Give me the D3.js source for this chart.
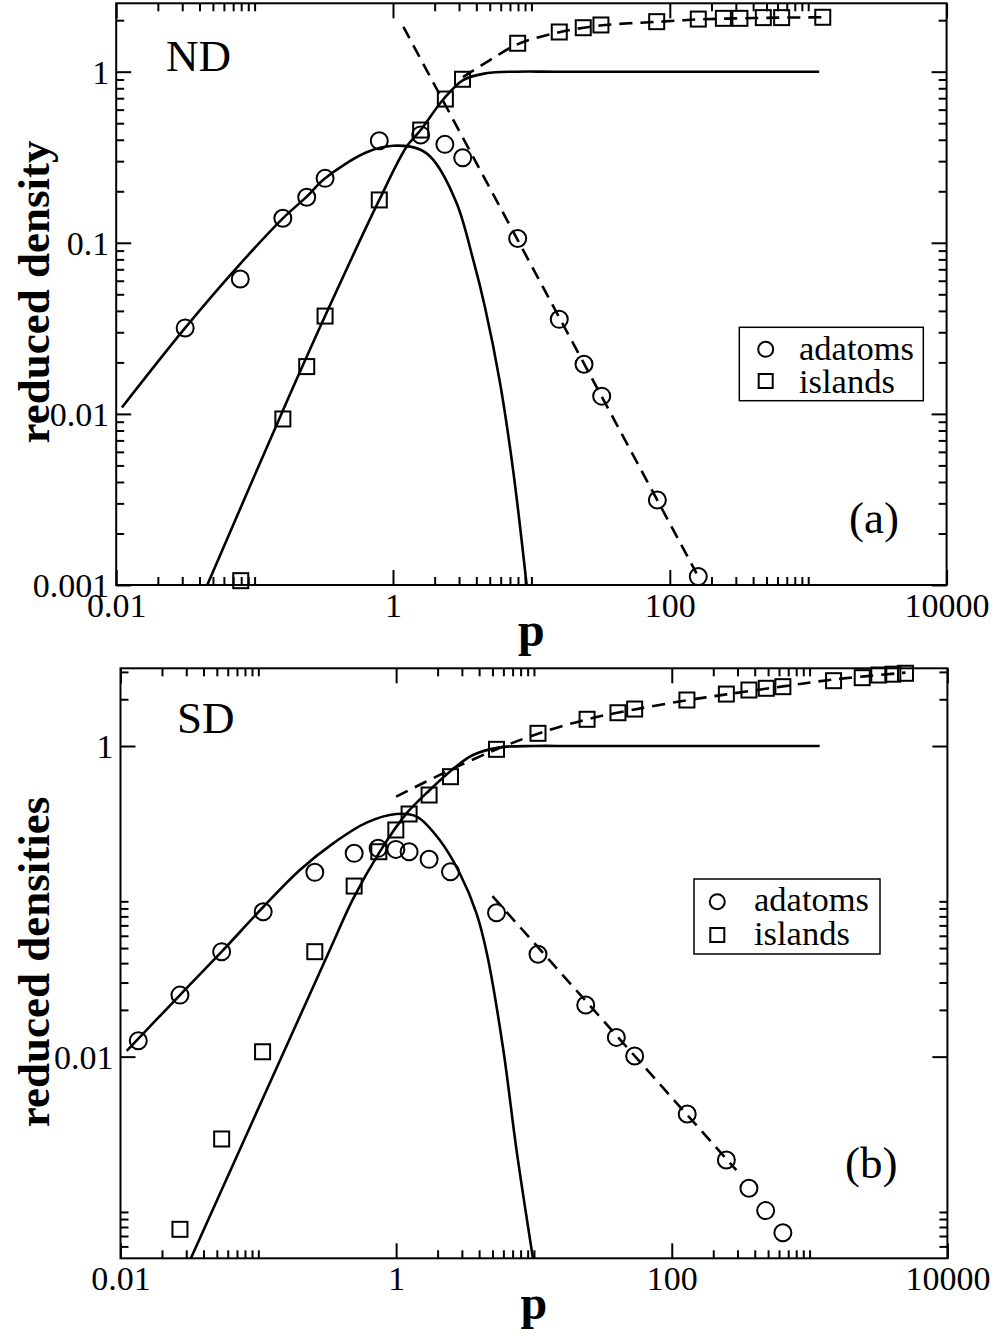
<!DOCTYPE html>
<html>
<head>
<meta charset="utf-8">
<script src="https://cdn.jsdelivr.net/npm/d3@7"></script>
<style>
  body { margin: 0; background: #fff; }
  svg { display: block; font-family: "Liberation Serif", "Times New Roman", serif; }
</style>
</head>
<body>
<svg id="chart" width="997" height="1336"></svg>
<script>
// ---- panel (a) : ND ----
const aAdatomP = [0.0315, 0.0788, 0.16, 0.238, 0.323, 0.796, 1.585, 2.37, 3.19, 7.96, 15.9, 24.0, 32.2, 81.3, 160.6];
const aAdatomV = [0.0318, 0.0614, 0.139, 0.1845, 0.238, 0.395, 0.427, 0.376, 0.314, 0.106, 0.0357, 0.0195, 0.0127, 0.00314, 0.00112];
const aIslandP = [0.0794, 0.16, 0.238, 0.323, 0.796, 1.585, 2.39, 3.18, 7.96, 15.9, 23.7, 31.8, 80.4, 160.6, 243.8, 321, 474, 643, 1274];
const aIslandV = [0.00106, 0.00934, 0.0189, 0.0373, 0.178, 0.456, 0.692, 0.903, 1.466, 1.706, 1.807, 1.875, 1.96, 2.03, 2.05, 2.05, 2.07, 2.07, 2.08];
// solid fits
const aAdatomFitP = [0.011, 0.0315, 0.079, 0.16, 0.238, 0.32, 0.645, 1.0, 1.58, 1.955, 2.885, 3.80, 4.62, 5.94, 7.40, 9.24];
const aAdatomFitV = [0.0109, 0.0318, 0.0755, 0.139, 0.186, 0.237, 0.338, 0.369, 0.350, 0.305, 0.170, 0.0794, 0.042, 0.0151, 0.0046, 0.001];
const aIslandFitP = [0.0455, 0.157, 0.323, 0.796, 1.256, 1.585, 2.29, 3.21, 4.7, 7.8, 15, 1200];
const aIslandFitV = [0.001, 0.0101, 0.0373, 0.178, 0.365, 0.456, 0.683, 0.894, 0.979, 1.0, 1.0, 1.0];
// dashed fits
const aAdatomDashP = [1.188, 156];
const aAdatomDashV = [1.83, 0.00117];
const aIslandDashP = [3.2, 5.02, 8.0, 15.9, 31.3, 84.9, 160, 320, 640, 1274];
const aIslandDashV = [0.93, 1.17, 1.45, 1.70, 1.86, 1.96, 2.02, 2.05, 2.07, 2.08];

// ---- panel (b) : SD ----
const bAdatomP = [0.01346, 0.027, 0.0542, 0.1085, 0.257, 0.496, 0.74, 0.995, 1.242, 1.734, 2.48, 5.35, 10.7, 23.75, 39.6, 53.8, 129.5, 249, 363, 480, 640];
const bAdatomV = [0.01265, 0.0249, 0.0474, 0.0857, 0.1537, 0.2037, 0.2194, 0.216, 0.2086, 0.1864, 0.155, 0.0845, 0.0456, 0.0215, 0.0133, 0.0101, 0.00427, 0.00216, 0.00142, 0.00102, 0.000735];
const bIslandP = [0.027, 0.0542, 0.1074, 0.257, 0.496, 0.749, 0.995, 1.242, 1.734, 2.48, 5.35, 10.7, 24.3, 40.7, 53.8, 128.8, 249, 363, 485, 640, 1493, 2410, 3177, 4018, 4966];
const bIslandV = [0.000773, 0.00295, 0.01075, 0.0474, 0.1254, 0.2086, 0.288, 0.365, 0.4836, 0.6347, 0.952, 1.207, 1.486, 1.638, 1.73, 1.978, 2.16, 2.294, 2.353, 2.41, 2.634, 2.754, 2.865, 2.90, 2.94];
const bAdatomFitP = [0.0111, 0.027, 0.0542, 0.1085, 0.2003, 0.349, 0.61, 1.0, 1.41, 2.07, 2.90, 3.83, 4.58, 6.0, 7.47, 9.85];
const bAdatomFitV = [0.0109, 0.0249, 0.0474, 0.0919, 0.159, 0.236, 0.321, 0.365, 0.351, 0.248, 0.151, 0.0837, 0.0451, 0.011, 0.00251, 0.0005];
const bIslandFitP = [0.0323, 0.330, 0.488, 0.762, 1.19, 1.755, 2.45, 3.61, 5.65, 9.9, 20, 1183];
const bIslandFitV = [0.0005, 0.0486, 0.104, 0.209, 0.368, 0.521, 0.683, 0.875, 0.98, 1.0, 1.0, 1.0];
const bAdatomDashP = [5.0, 294];
const bAdatomDashV = [0.108, 0.00186];
const bIslandDashP = [1.0, 2.19, 5.35, 10.7, 24.3, 53.8, 128.8, 249, 640, 1493, 4966];
const bIslandDashV = [0.472, 0.667, 0.952, 1.2, 1.486, 1.72, 1.97, 2.15, 2.42, 2.68, 2.97];

// tick labels
const xMajor = [0.01, 1, 100, 10000];
const xMajorLabels = ["0.01", "1", "100", "10000"];
const aYMajor = [0.001, 0.01, 0.1, 1];
const aYMajorLabels = ["0.001", "0.01", "0.1", "1"];
const bYMajor = [0.01, 1];
const bYMajorLabels = ["0.01", "1"];
const legendLabels = ["adatoms", "islands"];

const svg = d3.select("#chart");
const zip = (ps, vs) => ps.map((p, i) => [p, vs[i]]);

// grace style minor ticks: k*major for k = 2..kMax
function minorTicks(majors, kMax, lo, hi) {
    const out = [];
    majors.forEach(m => {
        for (let k = 2; k <= kMax; k++) {
            const v = k * m;
            if (v >= lo * 0.999 && v <= hi * 1.001 && !majors.some(M => Math.abs(M - v) / M < 1e-6)) out.push(v);
        }
    });
    return out;
}

function drawPanel(c) {
    const g = svg.append("g");
    const x = d3.scaleLog().domain(c.xDomain).range([c.left, c.right]);
    const y = d3.scaleLog().domain(c.yDomain).range([c.bottom, c.top]);
    const W = c.right - c.left, H = c.bottom - c.top;

    // ticks, all pointing inward
    const xMinor = minorTicks([1e-4, 0.01, 1, 100, 1e4], 10, c.xDomain[0], c.xDomain[1]);
    const yMinor = minorTicks(c.yAllMaj, c.yK, c.yDomain[0], c.yDomain[1]);
    const fmtX = v => xMajorLabels[xMajor.indexOf(v)];
    const fmtY = v => c.yLabels[c.yMajor.indexOf(v)];

    const axes = [
        [d3.axisBottom(x).tickValues(xMajor).tickSizeInner(-15).tickPadding(8).tickFormat(fmtX), `translate(0,${c.bottom})`, "x"],
        [d3.axisBottom(x).tickValues(xMinor).tickSizeInner(-8).tickFormat(""), `translate(0,${c.bottom})`],
        [d3.axisTop(x).tickValues(xMajor).tickSizeInner(-15).tickFormat(""), `translate(0,${c.top})`],
        [d3.axisTop(x).tickValues(xMinor).tickSizeInner(-8).tickFormat(""), `translate(0,${c.top})`],
        [d3.axisLeft(y).tickValues(c.yMajor).tickSizeInner(-15).tickPadding(7).tickFormat(fmtY), `translate(${c.left},0)`, "y"],
        [d3.axisLeft(y).tickValues(yMinor).tickSizeInner(-8).tickFormat(""), `translate(${c.left},0)`],
        [d3.axisRight(y).tickValues(c.yMajor).tickSizeInner(-15).tickFormat(""), `translate(${c.right},0)`],
        [d3.axisRight(y).tickValues(yMinor).tickSizeInner(-8).tickFormat(""), `translate(${c.right},0)`]
    ];
    axes.forEach(([ax, tr, kind]) => {
        const a = g.append("g").attr("transform", tr).call(ax.tickSizeOuter(0));
        a.select(".domain").remove();
        a.selectAll("line").attr("stroke", "#000").attr("stroke-width", 2);
        a.selectAll("text").attr("font-size", 34).attr("fill", "#000")
            .attr("font-family", "Liberation Serif, Times New Roman, serif");
        if (kind === "y") a.selectAll("text").attr("dy", "0.34em");
    });

    // frame
    g.append("rect").attr("x", c.left).attr("y", c.top).attr("width", W).attr("height", H)
        .attr("fill", "none").attr("stroke", "#000").attr("stroke-width", 2);

    const smooth = d3.line().x(d => x(d[0])).y(d => y(d[1])).curve(d3.curveCatmullRom.alpha(0.5));
    const straight = d3.line().x(d => x(d[0])).y(d => y(d[1]));

    c.solid.forEach(s => g.append("path").attr("d", smooth(s)).attr("fill", "none")
        .attr("stroke", "#000").attr("stroke-width", 2.6));
    c.dashed.forEach(s => g.append("path").attr("d", (s.length > 2 ? smooth : straight)(s)).attr("fill", "none")
        .attr("stroke", "#000").attr("stroke-width", 2.6).attr("stroke-dasharray", "13,8"));

    // markers
    g.selectAll(null).data(c.circles).enter().append("circle")
        .attr("cx", d => x(d[0])).attr("cy", d => y(d[1])).attr("r", 8.5)
        .attr("fill", "none").attr("stroke", "#000").attr("stroke-width", 2);
    g.selectAll(null).data(c.squares).enter().append("rect")
        .attr("x", d => x(d[0]) - 7.5).attr("y", d => y(d[1]) - 7.5).attr("width", 15).attr("height", 15)
        .attr("fill", "none").attr("stroke", "#000").attr("stroke-width", 2);

    // axis titles
    g.append("text").attr("x", (c.left + c.right) / 2).attr("y", c.bottom + 61)
        .attr("text-anchor", "middle").attr("font-weight", "bold").attr("font-size", 48).text("p");
    g.append("text").attr("transform", `translate(${c.yTitleX},${c.yTitleY}) rotate(-90)`)
        .attr("text-anchor", "middle").attr("font-weight", "bold").attr("font-size", 45).text(c.yTitle);

    // panel labels
    g.append("text").attr("x", c.nameX).attr("y", c.nameY).attr("font-size", 45).text(c.name);
    g.append("text").attr("x", c.tagX).attr("y", c.tagY).attr("font-size", 45).text(c.tag);

    // legend
    const L = c.legend;
    g.append("rect").attr("x", L.x0).attr("y", L.y0).attr("width", L.x1 - L.x0).attr("height", L.y1 - L.y0)
        .attr("fill", "#fff").attr("stroke", "#000").attr("stroke-width", 1.5);
    g.append("circle").attr("cx", L.sx).attr("cy", L.r1).attr("r", 7.5)
        .attr("fill", "none").attr("stroke", "#000").attr("stroke-width", 2);
    g.append("rect").attr("x", L.sx - 7).attr("y", L.r2 - 7).attr("width", 14).attr("height", 14)
        .attr("fill", "none").attr("stroke", "#000").attr("stroke-width", 2);
    g.append("text").attr("x", L.tx).attr("y", L.b1).attr("font-size", 34.5).text(legendLabels[0]);
    g.append("text").attr("x", L.tx).attr("y", L.b2).attr("font-size", 34.5).text(legendLabels[1]);
}

drawPanel({
    left: 116.2, right: 946.6, top: 3.3, bottom: 585,
    xDomain: [0.01, 10000], yDomain: [0.001, 2.51],
    yMajor: aYMajor, yLabels: aYMajorLabels, yAllMaj: [0.0001, 0.001, 0.01, 0.1, 1], yK: 9,
    circles: zip(aAdatomP, aAdatomV), squares: zip(aIslandP, aIslandV),
    solid: [zip(aAdatomFitP, aAdatomFitV), zip(aIslandFitP, aIslandFitV)],
    dashed: [zip(aAdatomDashP, aAdatomDashV), zip(aIslandDashP, aIslandDashV)],
    yTitle: "reduced density", yTitleX: 49, yTitleY: 292,
    name: "ND", nameX: 166, nameY: 70.5, tag: "(a)", tagX: 849, tagY: 533,
    legend: { x0: 739.3, y0: 327.3, x1: 923.3, y1: 400.7, sx: 765.7, r1: 349.3, r2: 381, tx: 799, b1: 360, b2: 392.5 }
});

drawPanel({
    left: 120.5, right: 947.4, top: 668.3, bottom: 1258.3,
    xDomain: [0.01, 10000], yDomain: [0.000503, 3.165],
    yMajor: bYMajor, yLabels: bYMajorLabels, yAllMaj: [0.0001, 0.01, 1], yK: 10,
    circles: zip(bAdatomP, bAdatomV), squares: zip(bIslandP, bIslandV),
    solid: [zip(bAdatomFitP, bAdatomFitV), zip(bIslandFitP, bIslandFitV)],
    dashed: [zip(bAdatomDashP, bAdatomDashV), zip(bIslandDashP, bIslandDashV)],
    yTitle: "reduced densities", yTitleX: 49, yTitleY: 962,
    name: "SD", nameX: 177, nameY: 733.3, tag: "(b)", tagX: 845, tagY: 1178,
    legend: { x0: 694, y0: 879, x1: 880, y1: 954, sx: 717.3, r1: 901.7, r2: 935, tx: 754, b1: 910.7, b2: 945 }
});
</script>
</body>
</html>
